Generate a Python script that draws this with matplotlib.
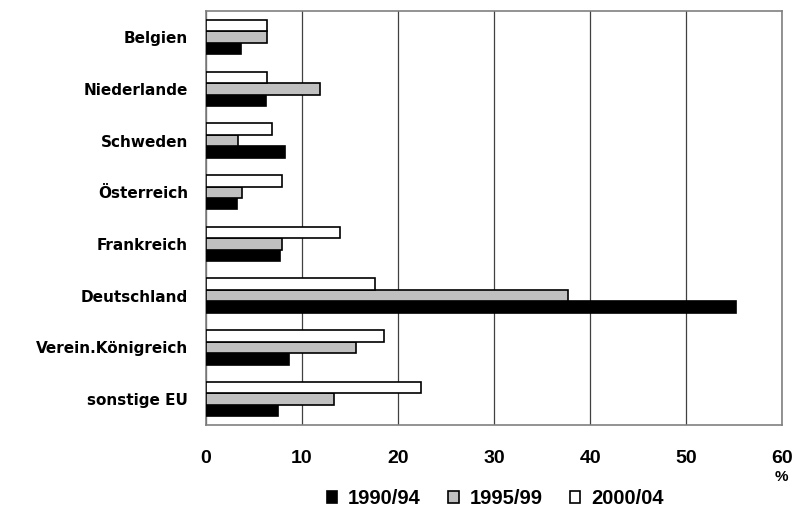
import matplotlib.pyplot as plt
import numpy as np

# data (percent)
laender = ['Belgien', 'Niederlande', 'Schweden', 'Österreich', 'Frankreich',
           'Deutschland', 'Verein.Königreich', 'sonstige EU']
p1990 = [3.6, 6.2, 8.2, 3.2, 7.7, 55.2, 8.6, 7.5]
p1995 = [6.4, 11.9, 3.3, 3.7, 7.9, 37.7, 15.6, 13.3]
p2000 = [6.4, 6.4, 6.9, 7.9, 13.9, 17.6, 18.5, 22.4]
perioden = ['1990/94', '1995/99', '2000/04']
xticks = [0, 10, 20, 30, 40, 50, 60]

plt.rcParams['font.family'] = ['Liberation Sans', 'DejaVu Sans']
plt.rcParams['font.weight'] = 'bold'

fig = plt.figure(figsize=(8.08, 5.09), dpi=100)
ax = fig.add_axes([0.255, 0.165, 0.713, 0.813])

# first category at the top
y = np.arange(len(laender))[::-1]
h = 0.222
ax.barh(y - h, p1990, height=h, color='black', edgecolor='black', linewidth=1.2, label=perioden[0], zorder=3)
ax.barh(y, p1995, height=h, color='#c0c0c0', edgecolor='black', linewidth=1.2, label=perioden[1], zorder=3)
ax.barh(y + h, p2000, height=h, color='white', edgecolor='black', linewidth=1.2, label=perioden[2], zorder=3)

ax.set_xlim(0, 60)
ax.set_ylim(-0.5, len(laender) - 0.5)
ax.set_xticks(xticks)
ax.set_xticklabels([str(t) for t in xticks], fontsize=14, fontweight='bold')
ax.set_yticks(y)
ax.set_yticklabels(laender, fontsize=11, fontweight='bold', family='DejaVu Sans')
ax.tick_params(axis='x', length=0, pad=18)
ax.tick_params(axis='y', length=0, pad=13)
ax.xaxis.grid(True, color='#404040', linewidth=0.9, zorder=0)
for s in ax.spines.values():
    s.set_color('#808080')
    s.set_linewidth(1.2)

fig.text(0.967, 0.063, '%', fontsize=11, fontweight='bold', ha='center', va='center')

ax.legend(loc='center', bbox_to_anchor=(0.613, 0.021), bbox_transform=fig.transFigure,
          ncol=3, frameon=False, fontsize=14.5, handlelength=0.52, handleheight=0.52,
          handletextpad=0.55, columnspacing=1.35, borderpad=0)

plt.savefig('out.png', dpi=100)
